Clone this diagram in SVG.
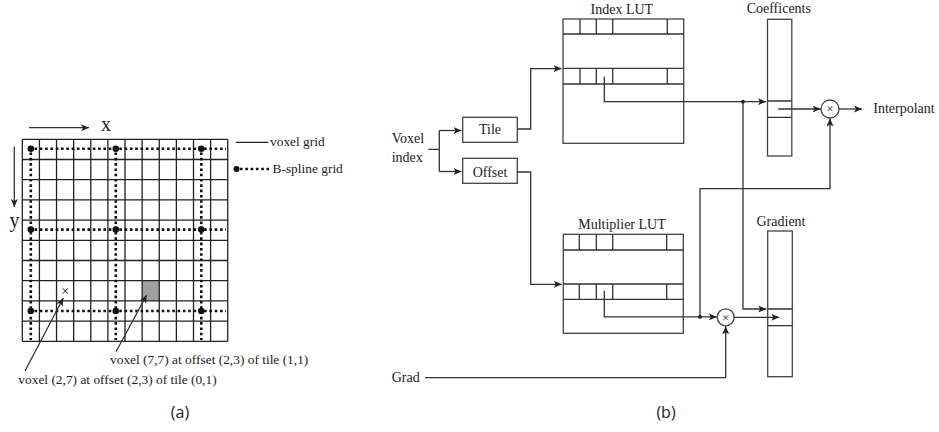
<svg xmlns="http://www.w3.org/2000/svg" width="939" height="432" viewBox="0 0 939 432">
  <defs>
    <marker id="arr" markerUnits="userSpaceOnUse" markerWidth="9" markerHeight="7" refX="8" refY="3.5" orient="auto">
      <path d="M0,0 L8,3.5 L0,7 L2,3.5 z" fill="#222"/>
    </marker>
    <style>
      .serif { font-family: "Liberation Serif", "Times New Roman", serif; fill: #222; }
      .lbl { font-size: 14px; }
      .small { font-size: 13.4px; }
      .axis { font-size: 20px; }
      .cap { font-family: "Open Sans", "Noto Sans", sans-serif; font-size: 16px; fill: #222; }
      .ln { fill: none; stroke: #333; stroke-width: 1.3; }
      .box { fill: #fff; stroke: #444; stroke-width: 1.3; }
      .grid { fill: none; stroke: #222; stroke-width: 1.3; }
      .dots { fill: none; stroke: #111; stroke-width: 2.6; stroke-dasharray: 2.6 2.7; }
      .knot { fill: #111; }
      .jn { fill: #222; }
    </style>
  </defs>

  <!-- (a) voxel grid with B-spline knot grid -->
  <g id="voxel-grid">
    <rect x="142.14" y="280.7" width="17.12" height="20.2" fill="#a0a0a0"/>
    <path class="grid" d="M22.3,139.3V341.3 M39.42,139.3V341.3 M56.54,139.3V341.3 M73.66,139.3V341.3 M90.78,139.3V341.3 M107.9,139.3V341.3 M125.02,139.3V341.3 M142.14,139.3V341.3 M159.26,139.3V341.3 M176.38,139.3V341.3 M193.5,139.3V341.3 M210.62,139.3V341.3 M227.74,139.3V341.3
      M22.3,139.3H227.74 M22.3,159.5H227.74 M22.3,179.7H227.74 M22.3,199.9H227.74 M22.3,220.1H227.74 M22.3,240.3H227.74 M22.3,260.5H227.74 M22.3,280.7H227.74 M22.3,300.9H227.74 M22.3,321.1H227.74 M22.3,341.3H227.74"/>
    <text class="serif" x="65.1" y="295.5" font-size="14" text-anchor="middle">×</text>
  </g>

  <g id="bspline-grid">
    <path class="dots" d="M34.5,148.8H226 M34.5,229.6H226 M34.5,311H226 M30.8,152.5V340 M115.8,152.5V340 M201.3,152.5V340"/>
    <circle class="knot" cx="30.8" cy="148.8" r="3.3"/>
    <circle class="knot" cx="115.8" cy="148.8" r="3.3"/>
    <circle class="knot" cx="201.3" cy="148.8" r="3.3"/>
    <circle class="knot" cx="30.8" cy="229.6" r="3.3"/>
    <circle class="knot" cx="115.8" cy="229.6" r="3.3"/>
    <circle class="knot" cx="201.3" cy="229.6" r="3.3"/>
    <circle class="knot" cx="30.8" cy="311" r="3.3"/>
    <circle class="knot" cx="115.8" cy="311" r="3.3"/>
    <circle class="knot" cx="201.3" cy="311" r="3.3"/>
  </g>

  <g id="axes">
    <line class="ln" x1="29" y1="127.7" x2="89" y2="127.7" marker-end="url(#arr)"/>
    <text class="serif axis" x="101" y="131">x</text>
    <line class="ln" x1="14.3" y1="146.7" x2="14.3" y2="207" marker-end="url(#arr)"/>
    <text class="serif axis" x="9.5" y="226.5">y</text>
  </g>

  <g id="legend">
    <line x1="235.7" y1="142.3" x2="268.3" y2="142.3" stroke="#222" stroke-width="1.3"/>
    <text class="serif small" x="270" y="146">voxel grid</text>
    <circle class="knot" cx="236.5" cy="169" r="3"/>
    <line class="dots" x1="240" y1="169" x2="269" y2="169" stroke-width="2" stroke-dasharray="2 2.3"/>
    <text class="serif small" x="272.5" y="172.5">B-spline grid</text>
  </g>

  <g id="voxel-notes">
    <text class="serif small" x="110" y="364">voxel (7,7) at offset (2,3) of tile (1,1)</text>
    <text class="serif small" x="18.3" y="384">voxel (2,7) at offset (2,3) of tile (0,1)</text>
  </g>

  <text class="cap" x="180" y="418" text-anchor="middle">(a)</text>

  <!-- (b) lookup pipeline -->
  <g id="voxel-index">
    <text class="serif lbl" x="391.7" y="143.3">Voxel</text>
    <text class="serif lbl" x="391.7" y="161.7">index</text>
  </g>

  <g id="tile">
    <rect class="box" x="462.7" y="117.3" width="54.6" height="25"/>
    <text class="serif lbl" x="490" y="133.5" text-anchor="middle">Tile</text>
  </g>

  <g id="offset">
    <rect class="box" x="462.7" y="158.3" width="54.6" height="25"/>
    <text class="serif lbl" x="490" y="176.7" text-anchor="middle">Offset</text>
  </g>

  <g id="index-lut">
    <text class="serif lbl" x="621.8" y="14" text-anchor="middle" font-size="14.5">Index LUT</text>
    <rect class="box" x="563" y="19" width="120.7" height="124.3"/>
    <path class="ln" stroke="#444" d="M563,34H683.7 M563,68.3H683.7 M563,84H683.7
      M580,19V34 M596.3,19V34 M612.7,19V34 M667.3,19V34
      M580,68.3V84 M596.3,68.3V84 M612.7,68.3V84 M667.3,68.3V84"/>
  </g>

  <g id="multiplier-lut">
    <text class="serif lbl" x="622" y="229.3" text-anchor="middle" font-size="14.8">Multiplier LUT</text>
    <rect class="box" x="563.3" y="234.3" width="120" height="99"/>
    <path class="ln" stroke="#444" d="M563.3,250H683.3 M563.3,284H683.3 M563.3,299.3H683.3
      M579.3,234.3V250 M596.3,234.3V250 M612.7,234.3V250 M666.7,234.3V250
      M579.3,284V299.3 M596.3,284V299.3 M612.7,284V299.3 M666.7,284V299.3"/>
  </g>

  <g id="coefficients">
    <text class="serif lbl" x="778.8" y="13.3" text-anchor="middle">Coefficents</text>
    <rect class="box" x="767.5" y="19.3" width="24.3" height="136.7"/>
    <path class="ln" stroke="#444" d="M767.5,101H791.8 M767.5,117.3H791.8"/>
  </g>

  <g id="gradient">
    <text class="serif lbl" x="781" y="226" text-anchor="middle" font-size="14.6">Gradient</text>
    <rect class="box" x="767.7" y="231" width="24.6" height="145.7"/>
    <path class="ln" stroke="#444" d="M767.7,309H792.3 M767.7,325.7H792.3"/>
  </g>

  <g id="mult-interp">
    <circle class="box" cx="830" cy="109" r="9"/>
    <text class="serif" x="830" y="113.2" font-size="13" text-anchor="middle">×</text>
  </g>

  <g id="mult-grad">
    <circle class="box" cx="725.7" cy="317.3" r="8.5"/>
    <text class="serif" x="725.7" y="321.5" font-size="13" text-anchor="middle">×</text>
  </g>

  <g id="interpolant">
    <text class="serif lbl" x="873.3" y="113.3" font-size="14.4">Interpolant</text>
  </g>

  <g id="grad">
    <text class="serif lbl" x="391.7" y="382">Grad</text>
  </g>

  <text class="cap" x="666" y="418" text-anchor="middle">(b)</text>

  <g id="connectors">
    <!-- voxel grid leaders -->
    <line class="ln" x1="25" y1="371" x2="63.3" y2="298" marker-end="url(#arr)"/>
    <line class="ln" x1="116" y1="351.7" x2="146.7" y2="295" marker-end="url(#arr)"/>
    <!-- voxel index split -->
    <path class="ln" d="M428.3,149.3H439.3 M439.3,130.5V171.5"/>
    <path class="ln" d="M439.3,130.5H461.5" marker-end="url(#arr)"/>
    <path class="ln" d="M439.3,171.5H461.5" marker-end="url(#arr)"/>
    <!-- tile / offset into tables -->
    <path class="ln" d="M517.3,129H530.7V68.6H561.5" marker-end="url(#arr)"/>
    <path class="ln" d="M517.3,172H530.7V284.3H561.8" marker-end="url(#arr)"/>
    <!-- index LUT entry to coefficients -->
    <path class="ln" d="M604.3,76.7V101.7H766" marker-end="url(#arr)"/>
    <path class="ln" d="M743,101.7V309H766.2" marker-end="url(#arr)"/>
    <circle class="jn" cx="743" cy="101.7" r="1.9"/>
    <!-- multiplier LUT entry -->
    <path class="ln" d="M604.3,290.7V316.9H716.8" marker-end="url(#arr)"/>
    <path class="ln" d="M700,316.9V188.6H830V118.5" marker-end="url(#arr)"/>
    <circle class="jn" cx="700" cy="316.9" r="1.9"/>
    <!-- coefficient to product and output -->
    <path class="ln" d="M778.3,109H820.6" marker-end="url(#arr)"/>
    <path class="ln" d="M839,109H862" marker-end="url(#arr)"/>
    <!-- gradient product -->
    <path class="ln" d="M734.2,317.3H779.3" marker-end="url(#arr)"/>
    <path class="ln" d="M425,377.7H725.7V326.3" marker-end="url(#arr)"/>
  </g>
</svg>
